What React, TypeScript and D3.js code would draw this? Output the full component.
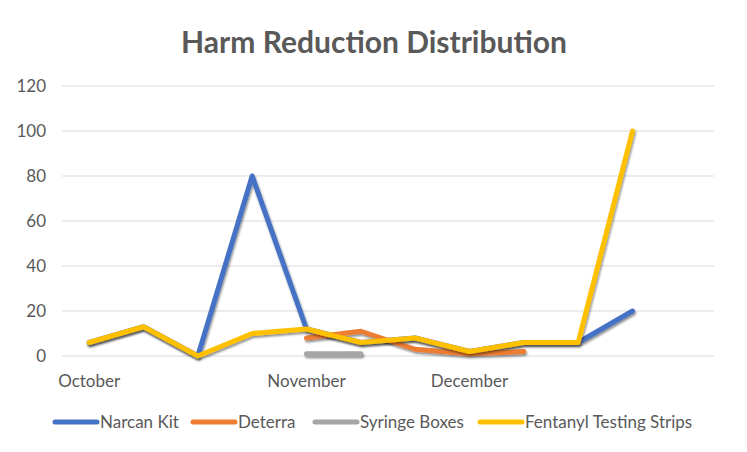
import * as d3 from 'd3';

const months = ['October', '', '', '', 'November', '', '', 'December', '', '', '', ''];
const narcanKit = [6, 13, 0, 80, 12, 6, 8, 2, 6, 6, 20];
const deterra = [null, null, null, null, 8, 11, 3, 1, 2];
const syringeBoxes = [null, null, null, null, 1, 1];
const fentanylStrips = [6, 13, 0, 10, 12, 6, 8, 2, 6, 6, 100];
const yTicks = [0, 20, 40, 60, 80, 100, 120];

const series = [
  { name: 'Narcan Kit', values: narcanKit, color: '#4472C4' },
  { name: 'Deterra', values: deterra, color: '#ED7D31' },
  { name: 'Syringe Boxes', values: syringeBoxes, color: '#A5A5A5' },
  { name: 'Fentanyl Testing Strips', values: fentanylStrips, color: '#FFC000' },
];

const width = 747;
const height = 452;
const margin = { top: 86, right: 33, bottom: 96, left: 62 };
const font = 'Lato, "Noto Sans", sans-serif';
const textColor = '#595959';

const App = () => {
  const x = d3
    .scaleBand<number>()
    .domain(months.map((_, i) => i))
    .range([margin.left, width - margin.right]);
  const y = d3
    .scaleLinear()
    .domain([0, 120])
    .range([height - margin.bottom, margin.top]);

  const line = d3
    .line<number | null>()
    .defined((d) => d !== null)
    .x((_, i) => (x(i) || 0) + x.bandwidth() / 2)
    .y((d) => y(d as number));

  // legend positions (marker start x)
  const legendX = [55, 193, 315, 480];

  return (
    <div style={{ margin: -8 }}>
      <svg width={width} height={height} style={{ display: 'block' }}>
        <defs>
          <filter id="shadow" filterUnits="userSpaceOnUse" x={0} y={0} width={width} height={height}>
            <feDropShadow dx="1" dy="2" stdDeviation="1.2" floodColor="#000" floodOpacity="0.45" />
          </filter>
        </defs>
        <rect x={2.5} y={3.5} width={742} height={445} fill="#fff" stroke="#D9D9D9" />
        <text
          x={374}
          y={53}
          textAnchor="middle"
          fontFamily={font}
          fontWeight="bold"
          fontSize={30}
          fill={textColor}
        >
          Harm Reduction Distribution
        </text>
        {yTicks.map((t) => (
          <g key={t}>
            <line
              x1={margin.left}
              x2={width - margin.right}
              y1={y(t)}
              y2={y(t)}
              stroke="#D9D9D9"
              strokeWidth={1}
            />
            <text
              x={46}
              y={y(t)}
              dy="0.35em"
              textAnchor="end"
              fontFamily={font}
              fontSize={17}
              fill={textColor}
            >
              {t}
            </text>
          </g>
        ))}
        {months.map((m, i) =>
          m ? (
            <text
              key={i}
              x={(x(i) || 0) + x.bandwidth() / 2}
              y={387}
              textAnchor="middle"
              fontFamily={font}
              fontSize={17}
              fill={textColor}
            >
              {m}
            </text>
          ) : null,
        )}
        {series.map((s) => (
          <path
            key={s.name}
            d={line(s.values) || ''}
            fill="none"
            stroke={s.color}
            strokeWidth={5}
            strokeLinecap="round"
            strokeLinejoin="round"
            filter="url(#shadow)"
          />
        ))}
        {series.map((s, i) => (
          <g key={s.name}>
            <line
              x1={legendX[i]}
              x2={legendX[i] + 42}
              y1={422}
              y2={422}
              stroke={s.color}
              strokeWidth={5}
              strokeLinecap="round"
            />
            <text
              x={legendX[i] + 45}
              y={422}
              dy="0.35em"
              fontFamily={font}
              fontSize={17}
              fill={textColor}
            >
              {s.name}
            </text>
          </g>
        ))}
      </svg>
    </div>
  );
};

export default App;
